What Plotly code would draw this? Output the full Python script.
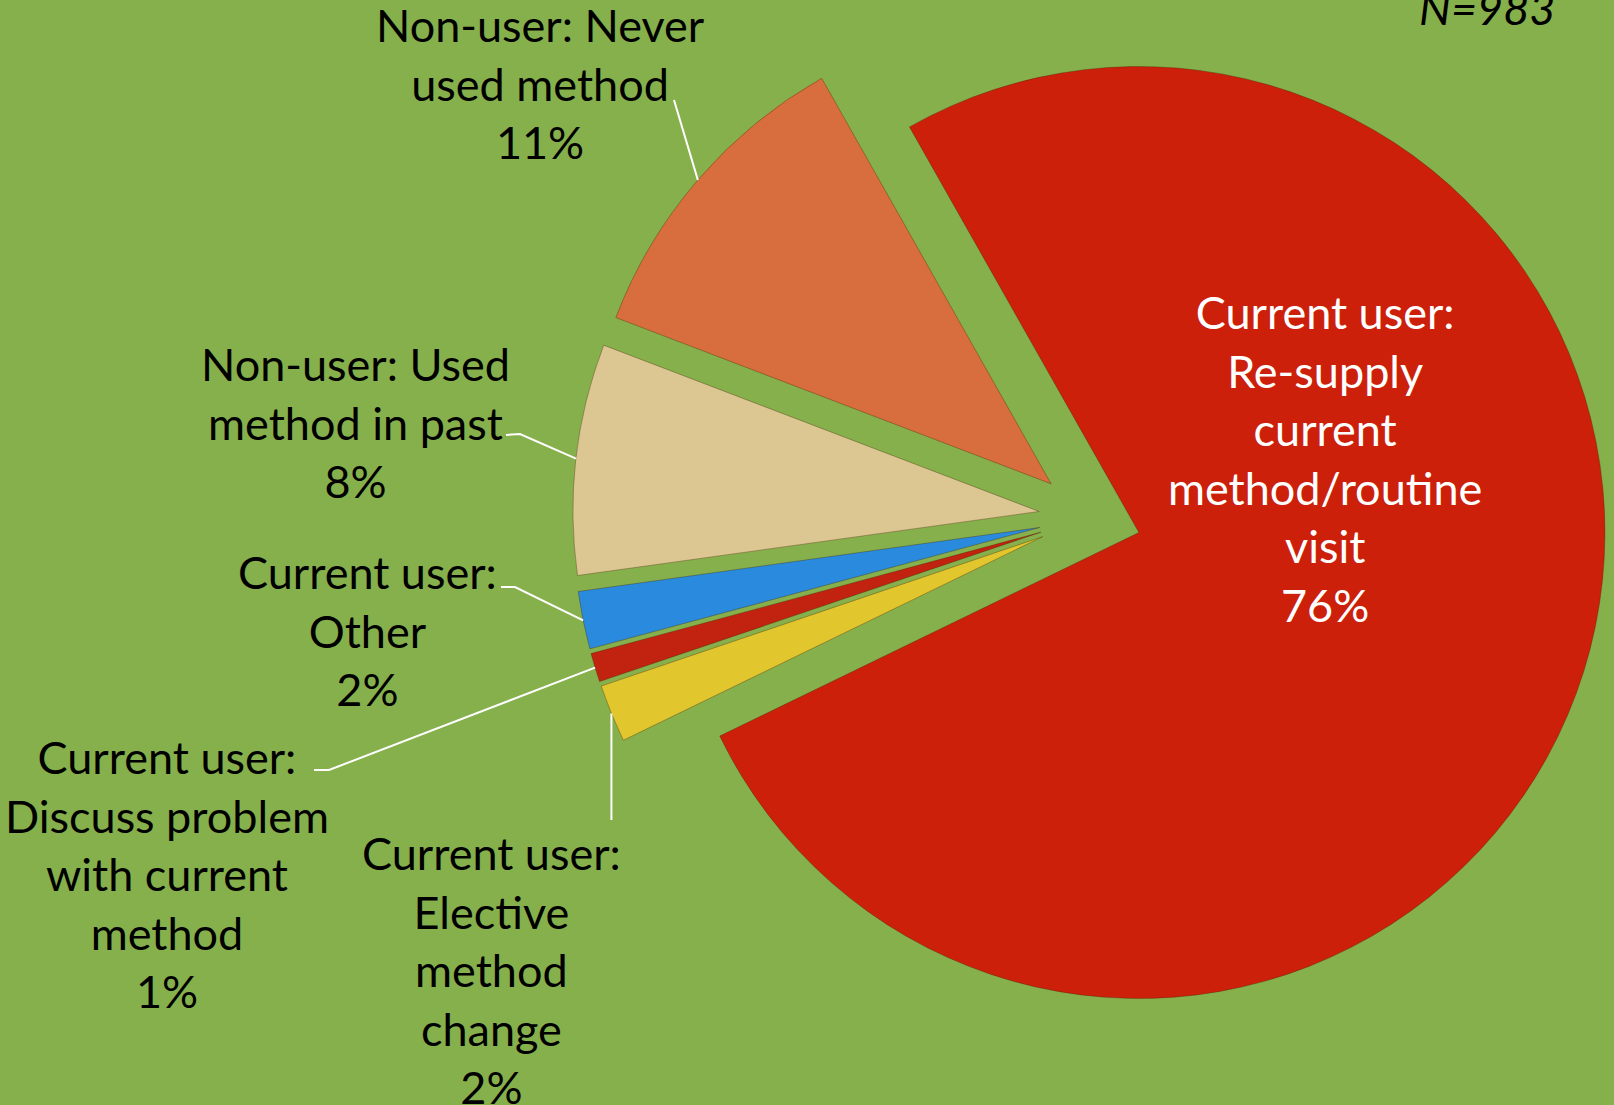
import math
import plotly.graph_objects as go

W, H = 1614, 1105

# ---- data ----
categories = [
    "Current user: Re-supply current method/routine visit",
    "Current user: Elective method change",
    "Current user: Discuss problem with current method",
    "Current user: Other",
    "Non-user: Used method in past",
    "Non-user: Never used method",
]
label_lines = [
    ["Current user:", "Re-supply", "current", "method/routine", "visit"],
    ["Current user:", "Elective", "method", "change"],
    ["Current user:", "Discuss problem", "with current", "method"],
    ["Current user:", "Other"],
    ["Non-user: Used", "method in past"],
    ["Non-user: Never", "used method"],
]
percent_values = [76, 2, 1, 2, 8, 11]
sample_note = "N=983"

# ---- styling ----
slice_colors = ["#CC200A", "#E2C62E", "#C22310", "#2A8BDE", "#DCC792", "#D86D3D"]
bg = "#86B04C"
font_family = "Lato, 'Open Sans', sans-serif"
fs = 45

# label placement (pixel centres) and leader-line start points (pixels)
label_pos = [(1325, 458), (492, 970), (167, 874), (367, 630), (355, 422), (540, 84)]
label_color = ["white", "black", "black", "black", "black", "black"]
leader_start = [
    None,
    "vertical:820",
    [(314, 770), (329, 770)],
    [(501, 587), (515, 587)],
    [(506, 435), (520, 434)],
    [(674, 100)],
]

def X(px):
    return px / W

def Y(py):
    return 1 - py / H

# pie geometry (pixels)
pull = 0.11
r = 466
R = r * (1 + pull)
cx, cy = 1090, R
rotation = -29.5

fig = go.Figure(go.Pie(
    labels=categories,
    values=percent_values,
    sort=False,
    direction="clockwise",
    rotation=rotation,
    pull=[pull] * len(percent_values),
    marker=dict(colors=slice_colors, line=dict(color="rgba(70,35,10,0.35)", width=1)),
    textinfo="none",
    hoverinfo="label+percent",
    showlegend=False,
    domain=dict(x=[X(cx - R), X(cx + R)], y=[Y(cy + R), Y(cy - R)]),
))

# leader-line end points: outer arc of each (pulled) slice at its mid-angle
total = sum(percent_values)
ends = []
acc = 0
for v in percent_values:
    mid = math.radians(rotation + 360 * (acc + v / 2) / total)
    acc += v
    d = r * (1 + pull)
    ends.append((cx + d * math.sin(mid), cy - d * math.cos(mid)))

annotations = []
for lines, val, (px, py), col in zip(label_lines, percent_values, label_pos, label_color):
    text = "<br>".join(lines + [f"{val}%"])
    annotations.append(dict(
        x=X(px), y=Y(py), xref="paper", yref="paper",
        text=text, showarrow=False, align="center",
        xanchor="center", yanchor="middle",
        font=dict(family=font_family, size=fs, color=col),
    ))
annotations.append(dict(
    x=X(1557), y=Y(8), xref="paper", yref="paper",
    text=f"<i>{sample_note}</i>", showarrow=False,
    xanchor="right", yanchor="middle",
    font=dict(family=font_family, size=fs, color="black"),
))

shapes = []
for start, end in zip(leader_start, ends):
    if not start:
        continue
    if isinstance(start, str):
        start = [(end[0], float(start.split(":")[1]))]
    pts = start + [end]
    path = "M " + " L ".join(f"{X(a)},{Y(b)}" for a, b in pts)
    shapes.append(dict(type="path", path=path, xref="paper", yref="paper",
                       line=dict(color="white", width=2)))

fig.update_layout(
    width=W, height=H,
    margin=dict(l=0, r=0, t=0, b=0),
    paper_bgcolor=bg, plot_bgcolor=bg,
    annotations=annotations, shapes=shapes,
    font=dict(family=font_family),
)

fig.write_html("out.html", config={"displayModeBar": False},
               post_script="document.body.style.margin='0';")
